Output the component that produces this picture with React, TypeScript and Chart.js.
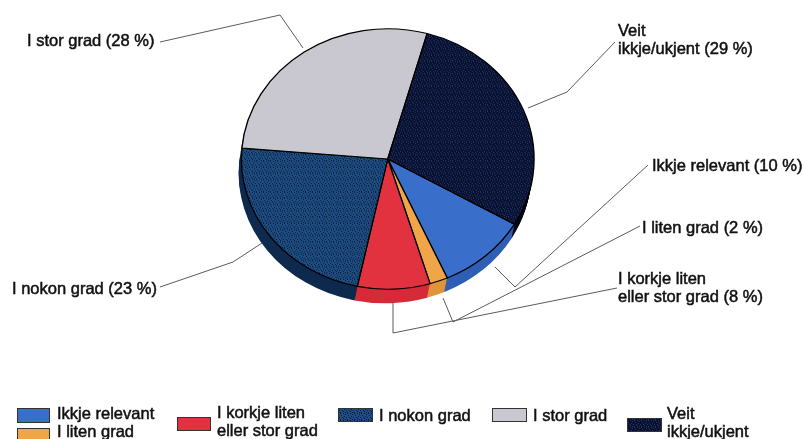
import React, { useEffect, useRef } from "react";
import { Chart, registerables } from "chart.js";

Chart.register(...registerables);

const categories = ["Ikkje relevant", "I liten grad", "I korkje liten eller stor grad", "I nokon grad", "I stor grad", "Veit ikkje/ukjent"];
const shares = [10, 2, 8, 23, 28, 29];
const sliceColors = ["#3a6ecb", "#efa548", "#e2323f", "#1d4d82", "#c9c8d0", "#0a1130"];
const wallColors = ["#2f5fb5", "#e09438", "#d62b38", "#0e2a4e", "#8f8f98", "#050818"];
const speckleColors: Record<number, string> = { 3: "#0b1c35", 5: "#1f3768" };
const speckleTile = ["1000100", "0010000", "0000010", "0100000", "0001001", "1000000", "0010100"];

const FONT = '16.5px "Liberation Sans", Arial, sans-serif';
const CX = 387.5;
const CY = 159;
const SQUASH = 0.89;
const DEPTH = 14;
const SLANT = 0.2;

const calloutLines = [
  { text: "I stor grad (28 %)", x: 27, y: 46 },
  { text: "Veit", x: 618, y: 36 },
  { text: "ikkje/ukjent (29 %)", x: 618, y: 54 },
  { text: "I nokon grad (23 %)", x: 12, y: 294 },
  { text: "Ikkje relevant (10 %)", x: 652, y: 171 },
  { text: "I liten grad (2 %)", x: 642, y: 233 },
  { text: "I korkje liten", x: 618, y: 284 },
  { text: "eller stor grad (8 %)", x: 618, y: 302 },
];
const leaderPaths = [
  [[160, 42], [240, 24], [280, 15], [303, 48]],
  [[615, 42], [567, 92], [528, 108]],
  [[160, 287], [233, 262], [262, 243]],
  [[648, 165], [515, 287], [495, 267]],
  [[640, 226], [453, 322], [443, 298]],
  [[617, 288], [393, 333], [393, 302]],
];
const legendEntries = [
  { sw: 0, x: 17, y: 408, w: 33, h: 15, tx: 57, lines: [["Ikkje relevant", 419]] },
  { sw: 1, x: 17, y: 428, w: 33, h: 15, tx: 57, lines: [["I liten grad", 437]] },
  { sw: 2, x: 177, y: 417, w: 34, h: 14, tx: 217, lines: [["I korkje liten", 418], ["eller stor grad", 436]] },
  { sw: 3, x: 338, y: 408, w: 35, h: 14, tx: 379, lines: [["I nokon grad", 421]] },
  { sw: 4, x: 492, y: 408, w: 35, h: 14, tx: 533, lines: [["I stor grad", 421]] },
  { sw: 5, x: 627, y: 418, w: 35, h: 14, tx: 667, lines: [["Veit", 419], ["ikkje/ukjent", 437]] },
];

function fillFor(i: number, ctx: CanvasRenderingContext2D): string | CanvasPattern {
  const dot = speckleColors[i];
  if (!dot) return sliceColors[i];
  const tile = document.createElement("canvas");
  tile.width = speckleTile[0].length;
  tile.height = speckleTile.length;
  const t = tile.getContext("2d") as CanvasRenderingContext2D;
  t.fillStyle = sliceColors[i];
  t.fillRect(0, 0, tile.width, tile.height);
  t.fillStyle = dot;
  speckleTile.forEach((row, y) => row.split("").forEach((c, x) => {
    if (c === "1") t.fillRect(x, y, 1, 1);
  }));
  return ctx.createPattern(tile, "repeat") as CanvasPattern;
}

const tiltPlugin = {
  id: "tilt",
  beforeDatasetsDraw(chart: any) {
    const ctx = chart.ctx;
    const arcs = chart.getDatasetMeta(0).data;
    ctx.save();
    ctx.translate(CX, CY);
    ctx.scale(1, SQUASH);
    ctx.translate(-CX, -CY);
    for (let d = DEPTH; d > 0; d--) {
      ctx.save();
      ctx.translate(-d * SLANT, d / SQUASH);
      arcs.forEach((arc: any, i: number) => {
        const saved = arc.options;
        arc.options = {
          backgroundColor: wallColors[i], borderColor: wallColors[i], borderWidth: 0,
          borderAlign: "center", borderJoinStyle: "round", borderRadius: 0,
          spacing: 0, offset: 0, circular: true, borderDash: [], borderDashOffset: 0,
        };
        arc.draw(ctx);
        arc.options = saved;
      });
      ctx.restore();
    }
  },
  afterDatasetsDraw(chart: any) {
    chart.ctx.restore();
  },
  afterDraw(chart: any) {
    const ctx = chart.ctx;
    ctx.save();
    ctx.strokeStyle = "#5a5a5a";
    ctx.lineWidth = 1;
    leaderPaths.forEach((p) => {
      ctx.beginPath();
      p.forEach(([x, y], i) => (i ? ctx.lineTo(x, y) : ctx.moveTo(x, y)));
      ctx.stroke();
    });
    ctx.font = FONT;
    ctx.fillStyle = "#111";
    ctx.strokeStyle = "#111";
    ctx.lineWidth = 0.5;
    const put = (t: string, x: number, y: number) => {
      ctx.fillText(t, x, y);
      ctx.strokeText(t, x, y);
    };
    calloutLines.forEach((l) => put(l.text, l.x, l.y));
    legendEntries.forEach((e) => {
      ctx.fillStyle = fillFor(e.sw, ctx);
      ctx.fillRect(e.x, e.y, e.w, e.h);
      ctx.strokeStyle = "#333";
      ctx.lineWidth = 1;
      ctx.strokeRect(e.x + 0.5, e.y + 0.5, e.w - 1, e.h - 1);
      ctx.fillStyle = "#111";
      ctx.strokeStyle = "#111";
      ctx.lineWidth = 0.5;
      e.lines.forEach(([t, y]) => put(t as string, e.tx, y as number));
    });
    ctx.restore();
  },
};

export default function App() {
  const ref = useRef<HTMLCanvasElement>(null);
  useEffect(() => {
    const canvas = ref.current as HTMLCanvasElement;
    const ctx = canvas.getContext("2d") as CanvasRenderingContext2D;
    const chart = new Chart(canvas, {
      type: "pie",
      data: {
        labels: categories,
        datasets: [{
          data: shares,
          backgroundColor: sliceColors.map((_, i) => fillFor(i, ctx)),
          borderColor: "#000",
          borderWidth: 1.3,
        }],
      },
      options: {
        responsive: false,
        animation: false,
        rotation: 120,
        layout: { padding: { left: 240.5, right: 269, top: 12, bottom: 133 } },
        plugins: { legend: { display: false }, tooltip: { enabled: false } },
      },
      plugins: [tiltPlugin],
    } as any);
    return () => chart.destroy();
  }, []);
  return (
    <div style={{ position: "fixed", left: 0, top: 0, width: 804, height: 439, background: "#fff", overflow: "hidden" }}>
      <canvas ref={ref} width={804} height={439} style={{ display: "block", filter: "blur(0.5px)" }} />
    </div>
  );
}
